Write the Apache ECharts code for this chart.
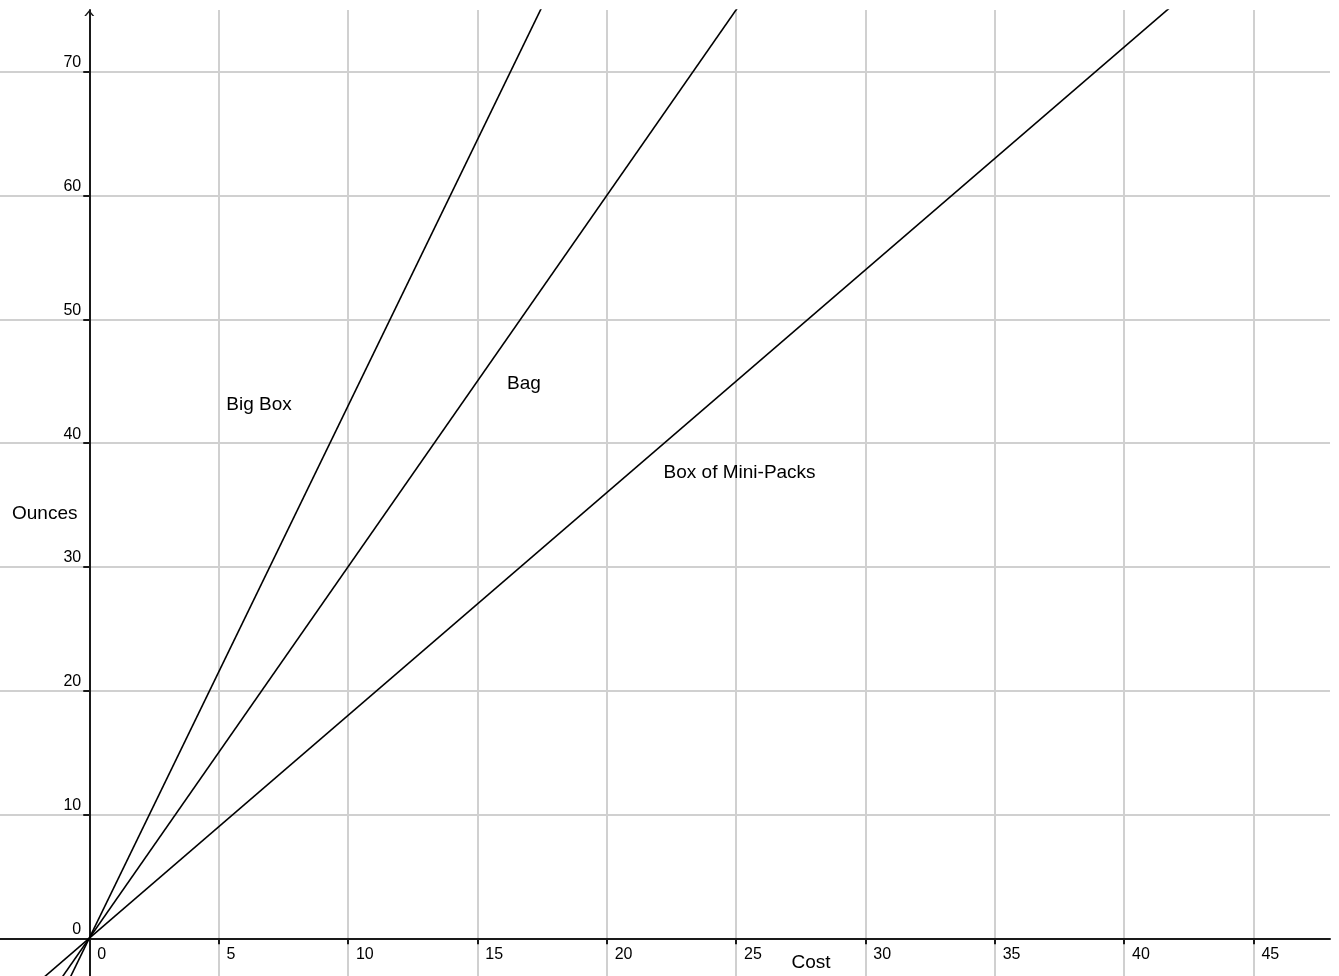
<!DOCTYPE html>
<html><head><meta charset="utf-8">
<script src="https://cdn.jsdelivr.net/npm/echarts@6/dist/echarts.min.js"></script>
<style>html,body{margin:0;padding:0;background:#fff}#c{width:1339px;height:976px}</style>
</head><body><div id="c"></div>
<script>
// Tick values
const xTicks = [0, 5, 10, 15, 20, 25, 30, 35, 40, 45];
const yTicks = [0, 10, 20, 30, 40, 50, 60, 70];
// Series (two points; lines are clipped by the plot)
const seriesNames = ['Big Box', 'Bag', 'Box of Mini-Packs'];
const bigBox = [[-5, -21.5], [20, 86]];
const bag = [[-5, -15], [30, 90]];
const miniPacks = [[-5, -9], [50, 90]];
// Text annotations (data coordinates)
const seriesLabelPos = [[5.3, 43.1], [16.15, 44.8], [22.2, 37.6]];
const xAxisName = 'Cost';
const yAxisName = 'Ounces';
const xNamePos = [27.9, -2.0];
const yNamePos = [-1.72, 34.3];
const Y_MAX = 75;

const FONT = 'Liberation Sans, Arial, sans-serif';
const chart = echarts.init(document.getElementById('c'), null, {renderer: 'canvas'});

const lineSeries = [bigBox, bag, miniPacks].map((d, i) => ({
  type: 'line', name: seriesNames[i], data: d, showSymbol: false, symbol: 'none',
  clip: true, silent: true, z: 3,
  lineStyle: {color: '#000', width: 1.6}
}));

const labelData = seriesNames.map((n, i) => ({name: n, value: seriesLabelPos[i]}))
  .concat([{name: xAxisName, value: xNamePos, label: {align: 'center'}},
           {name: yAxisName, value: yNamePos, label: {align: 'center'}}]);

const xTickLabelData = xTicks.map(v => ({name: String(v), value: [v, 0]}));
const yTickLabelData = yTicks.map(v => ({name: String(v), value: [0, v]}));

const textSeries = (data, label) => ({
  type: 'scatter', symbolSize: 0, silent: true, z: 4, data: data, clip: false,
  itemStyle: {opacity: 1},
  label: Object.assign({show: true, formatter: '{b}', position: [0, 0], color: '#000', opacity: 1,
    fontFamily: FONT}, label)
});

const arrowSeries = textSeries([], {});
arrowSeries.markPoint = {
  silent: true, animation: false,
  symbol: 'path://M0,10 L5,0 L10,10 L8.2,10 L5,3.6 L1.8,10 Z',
  symbolSize: [10, 6], symbolOffset: [0, 3],
  itemStyle: {color: '#1a1a1a'}, label: {show: false},
  data: [{coord: [0, Y_MAX]}]
};

chart.setOption({
  animation: false,
  backgroundColor: '#fff',
  grid: {left: 0, right: 9, top: 10, bottom: 0, containLabel: false, outerBoundsMode: 'none'},
  xAxis: {
    type: 'value', min: -3.45, max: 47.96,
    axisLine: {show: true, onZero: true, lineStyle: {color: '#1a1a1a', width: 2}},
    axisTick: {show: true, customValues: xTicks, length: 6, lineStyle: {color: '#1a1a1a', width: 2}},
    axisLabel: {show: false},
    splitLine: {show: true, lineStyle: {color: '#d0d0d0', width: 2}}
  },
  yAxis: {
    type: 'value', min: -3.05, max: Y_MAX,
    axisLine: {show: true, onZero: true, lineStyle: {color: '#1a1a1a', width: 2}},
    axisTick: {show: true, customValues: yTicks, length: 6, lineStyle: {color: '#1a1a1a', width: 2}},
    axisLabel: {show: false},
    splitLine: {show: true, lineStyle: {color: '#d0d0d0', width: 2}}
  },
  series: lineSeries.concat([
    textSeries(labelData, {align: 'left', verticalAlign: 'middle', fontSize: 19}),
    textSeries(xTickLabelData, {align: 'left', verticalAlign: 'middle', fontSize: 16, offset: [8, 16]}),
    textSeries(yTickLabelData, {align: 'right', verticalAlign: 'middle', fontSize: 16, offset: [-8, -9]}),
    arrowSeries
  ])
});
</script></body></html>
